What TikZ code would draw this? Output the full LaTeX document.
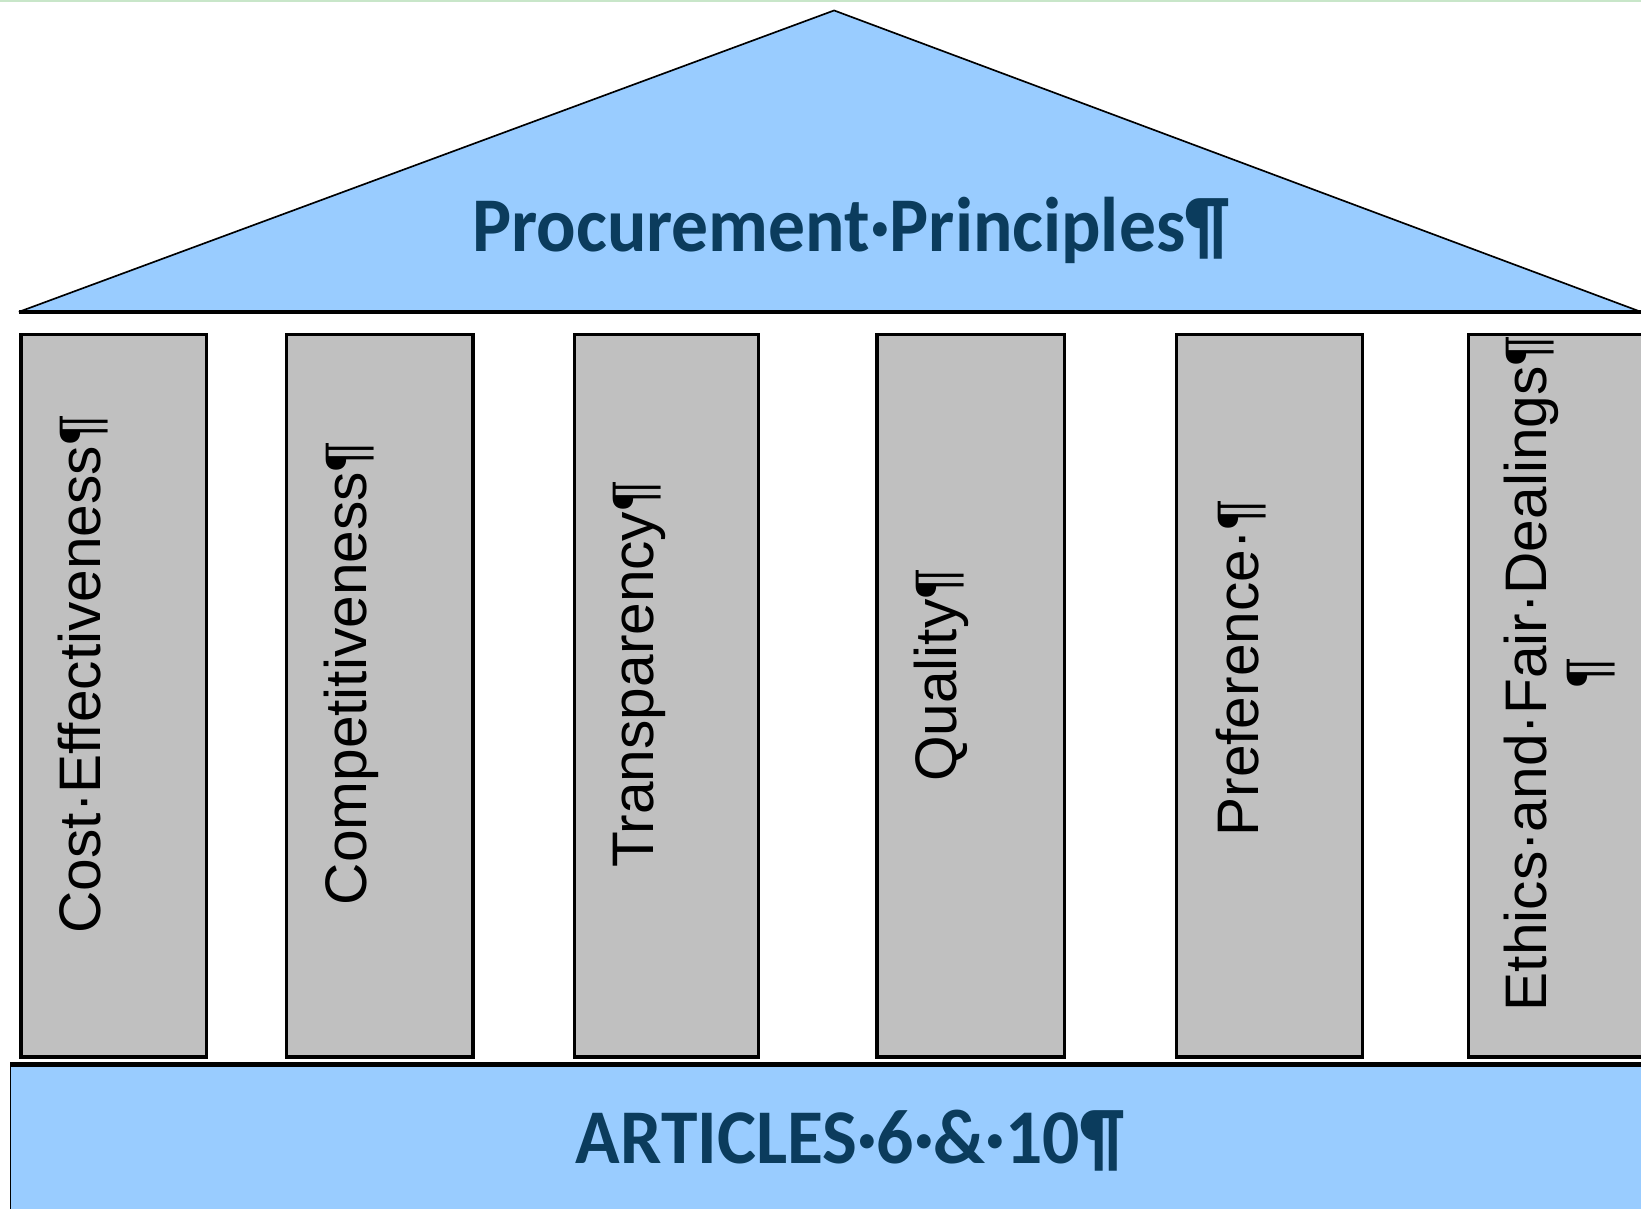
\documentclass[tikz,border=0pt]{standalone}
\usepackage{fontspec}
\setmainfont{Liberation Sans}
\newfontfamily\titlefont{Carlito}
\definecolor{roofblue}{HTML}{99CCFF}
\definecolor{pillargray}{HTML}{C0C0C0}
\definecolor{titleink}{HTML}{0B3C5D}
\definecolor{edgegreen}{HTML}{C8E6C9}
\begin{document}
\begin{tikzpicture}[x=0.5pt,y=-0.5pt,
    pillar/.style={draw=black,line width=1.5pt,fill=pillargray},
    pillarlabel/.style={rotate=90,inner sep=0pt,align=center,
                        font=\fontsize{28}{29}\selectfont},
    headline/.style={inner sep=0pt,text=titleink,xscale=0.95,transform shape,
                     font=\titlefont\bfseries\fontsize{37}{40}\selectfont}]
        \useasboundingbox (0,0) rectangle (1568,1155);
        \clip (0,0) rectangle (1568,1155);
        \fill[white] (0,0) rectangle (1568,1155);
        \draw[edgegreen,line width=1pt] (0,0.5) -- (1568,0.5);

        % roof
        \draw[fill=roofblue,line width=0.8pt] (18,298) -- (797,10) -- (1568,298);
        \draw[line width=2.2pt] (18,298) -- (1568,298);
        \node[headline] (roof) at (813,220) {Procurement·Principles¶};

        % pillars
        \draw[pillar] (20,320) rectangle (197,1010);
        \draw[pillar] (274,320) rectangle (452,1010);
        \draw[pillar] (549,320) rectangle (725,1010);
        \draw[pillar] (838,320) rectangle (1017,1010);
        \draw[pillar] (1124,320) rectangle (1302,1010);
        \draw[pillar] (1403,320) rectangle (1620,1010);

        \node[pillarlabel] (cost)    at (79,644)   {Cost·Effectiveness¶};
        \node[pillarlabel] (compete) at (336,643)  {Competitiveness¶};
        \node[pillarlabel] (transp)  at (611,644)  {Transparency¶};
        \node[pillarlabel] (quality) at (899,645)  {Quality¶};
        \node[pillarlabel] (prefer)  at (1186,638) {Preference·¶};
        \node[pillarlabel] (ethics)  at (1490,643) {Ethics·and·Fair·Dealings¶\\¶};

        % base
        \draw[fill=roofblue,line width=0.8pt] (10,1017) rectangle (1620,1200);
        \draw[line width=2.6pt] (10,1017) -- (1620,1017);
        \node[headline] (base) at (812,1090) {ARTICLES·6·\&·10¶};
      \end{tikzpicture}
\end{document}
